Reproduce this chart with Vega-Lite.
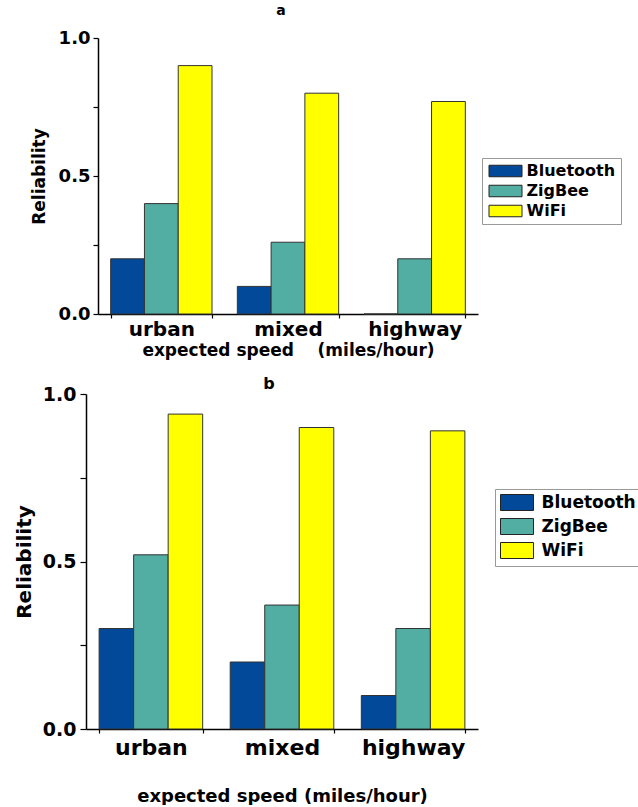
{
  "$schema": "https://vega.github.io/schema/vega-lite/v6.json",
  "background": "white",
  "padding": {"left": 14, "top": 4, "right": 0, "bottom": 0},
  "config": {
    "font": "DejaVu Sans",
    "view": {"stroke": null},
    "axis": {"domainColor": "#000", "tickColor": "#000", "labelColor": "#000", "titleColor": "#000", "labelFontWeight": "bold", "titleFontWeight": "bold", "grid": false, "domainWidth": 1.5, "tickWidth": 1.2},
    "legend": {"labelColor": "#000", "labelFontWeight": "bold"}
  },
  "datasets": {
    "a": [
      {"speed": "urban", "tech": "Bluetooth", "reliability": 0.2},
      {"speed": "urban", "tech": "ZigBee", "reliability": 0.4},
      {"speed": "urban", "tech": "WiFi", "reliability": 0.9},
      {"speed": "mixed", "tech": "Bluetooth", "reliability": 0.1},
      {"speed": "mixed", "tech": "ZigBee", "reliability": 0.26},
      {"speed": "mixed", "tech": "WiFi", "reliability": 0.8},
      {"speed": "highway", "tech": "Bluetooth", "reliability": 0},
      {"speed": "highway", "tech": "ZigBee", "reliability": 0.2},
      {"speed": "highway", "tech": "WiFi", "reliability": 0.77}
    ],
    "b": [
      {"speed": "urban", "tech": "Bluetooth", "reliability": 0.3},
      {"speed": "urban", "tech": "ZigBee", "reliability": 0.52},
      {"speed": "urban", "tech": "WiFi", "reliability": 0.94},
      {"speed": "mixed", "tech": "Bluetooth", "reliability": 0.2},
      {"speed": "mixed", "tech": "ZigBee", "reliability": 0.37},
      {"speed": "mixed", "tech": "WiFi", "reliability": 0.9},
      {"speed": "highway", "tech": "Bluetooth", "reliability": 0.1},
      {"speed": "highway", "tech": "ZigBee", "reliability": 0.3},
      {"speed": "highway", "tech": "WiFi", "reliability": 0.89}
    ]
  },
  "columns": 1,
  "align": "none",
  "spacing": 18,
  "resolve": {"scale": {"color": "independent", "x": "independent", "y": "independent", "xOffset": "independent"}, "legend": {"color": "independent"}, "axis": {"x": "independent", "y": "independent"}},
  "concat": [
    {
      "width": 392,
      "height": 276,
      "title": {"text": "a", "fontSize": 14, "fontWeight": "bold", "frame": "group", "anchor": "middle", "dx": -1, "offset": 11},
      "data": {"name": "a"},
      "mark": {"type": "bar", "stroke": "#333", "strokeWidth": 1},
      "encoding": {
        "x": {
          "field": "speed", "type": "nominal", "sort": ["urban", "mixed", "highway"],
          "scale": {"paddingInner": 0.2, "paddingOuter": 0.1, "range": [12, 392]},
          "axis": {"title": "expected speed \u00a0\u00a0 (miles/hour)", "labelAngle": 0, "labelFontSize": 20, "titleFontSize": 17, "tickBand": "extent", "tickSize": 4, "labelPadding": 1, "titlePadding": 3}
        },
        "xOffset": {"field": "tech", "type": "nominal", "sort": ["Bluetooth", "ZigBee", "WiFi"], "scale": {"paddingInner": 0, "paddingOuter": 0}},
        "y": {
          "field": "reliability", "type": "quantitative", "scale": {"domain": [0, 1], "nice": false},
          "axis": {"title": "Reliability", "offset": -12, "values": [0, 0.25, 0.5, 0.75, 1], "labelExpr": "datum.value == 0 || datum.value == 0.5 || datum.value == 1 ? format(datum.value, '.1f') : ''", "labelFontSize": 18, "titleFontSize": 17, "tickSize": 5, "labelPadding": 3, "titlePadding": 10}
        },
        "color": {
          "field": "tech", "type": "nominal", "sort": ["Bluetooth", "ZigBee", "WiFi"],
          "scale": {"domain": ["Bluetooth", "ZigBee", "WiFi"], "range": ["#02499A", "#52ADA3", "#FFFF00"]},
          "legend": {"title": null, "orient": "none", "legendX": 396, "legendY": 120, "symbolType": "M-2.75,-0.96H2.75V0.96H-2.75Z", "symbolSize": 144, "symbolOffset": 10.5, "symbolStrokeColor": "#222", "symbolStrokeWidth": 1, "symbolOpacity": 1, "labelFontSize": 16, "strokeColor": "#999", "padding": 5, "rowPadding": 4, "labelOffset": 13}
        }
      }
    },
    {
      "width": 392,
      "height": 335,
      "title": {"text": "b", "fontSize": 16, "fontWeight": "bold", "frame": "group", "anchor": "middle", "dx": -13, "offset": -7},
      "data": {"name": "b"},
      "mark": {"type": "bar", "stroke": "#333", "strokeWidth": 1},
      "encoding": {
        "x": {
          "field": "speed", "type": "nominal", "sort": ["urban", "mixed", "highway"],
          "scale": {"paddingInner": 0.21, "paddingOuter": 0.1},
          "axis": {"title": "expected speed (miles/hour)", "labelAngle": 0, "labelFontSize": 22, "titleFontSize": 18, "tickBand": "extent", "tickSize": 4, "labelPadding": 4, "titlePadding": 29}
        },
        "xOffset": {"field": "tech", "type": "nominal", "sort": ["Bluetooth", "ZigBee", "WiFi"], "scale": {"paddingInner": 0, "paddingOuter": 0}},
        "y": {
          "field": "reliability", "type": "quantitative", "scale": {"domain": [0, 1], "nice": false},
          "axis": {"title": "Reliability", "values": [0, 0.25, 0.5, 0.75, 1], "labelExpr": "datum.value == 0 || datum.value == 0.5 || datum.value == 1 ? format(datum.value, '.1f') : ''", "labelFontSize": 19, "titleFontSize": 20, "tickSize": 6, "labelPadding": 4, "titlePadding": 8}
        },
        "color": {
          "field": "tech", "type": "nominal", "sort": ["Bluetooth", "ZigBee", "WiFi"],
          "scale": {"domain": ["Bluetooth", "ZigBee", "WiFi"], "range": ["#02499A", "#52ADA3", "#FFFF00"]},
          "legend": {"title": null, "orient": "none", "legendX": 409, "legendY": 95, "symbolType": "M-2.0625,-1H2.0625V1H-2.0625Z", "symbolSize": 256, "symbolOffset": 8.5, "symbolStrokeColor": "#222", "symbolStrokeWidth": 1, "symbolOpacity": 1, "labelFontSize": 17, "strokeColor": "#999", "padding": 5, "rowPadding": 3, "labelOffset": 16}
        }
      }
    }
  ]
}
